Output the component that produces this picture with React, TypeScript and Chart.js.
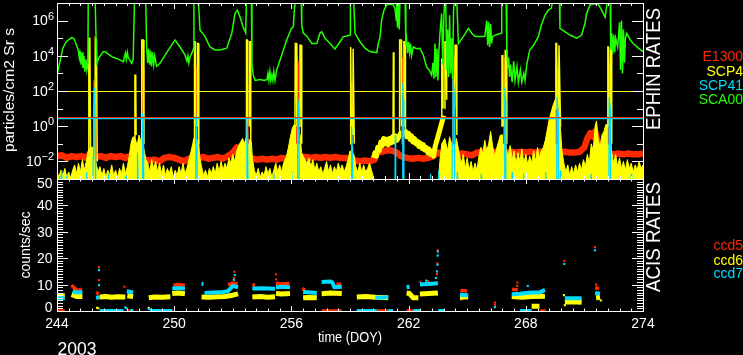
import React, { useEffect, useRef } from "react";
import { Chart, registerables } from "chart.js";

Chart.register(...registerables);

type P = [number, number] | null;

// ---------- axis / label data ----------
const DOY_MIN = 244;
const DOY_MAX = 274;
const DOY_LABELS = [244, 250, 256, 262, 268, 274];
const EPHIN_MIN = 1e-3;
const EPHIN_MAX = 1e7;
const EPHIN_EXPONENT_LABELS = [-2, 0, 2, 4, 6];
const ACIS_MIN = 0;
const ACIS_MAX = 50;
const ACIS_LABELS = [0, 10, 20, 30, 40, 50];
const YEAR_LABEL = "2003";
const X_TITLE = "time (DOY)";
const EPHIN_Y_TITLE = "particles/cm2 Sr s";
const ACIS_Y_TITLE = "counts/sec";
const EPHIN_PANEL_TITLE = "EPHIN RATES";
const ACIS_PANEL_TITLE = "ACIS RATES";
const EPHIN_NAMES = ["E1300", "SCP4", "SCP41", "SCA00"];
const ACIS_NAMES = ["ccd5", "ccd6", "ccd7"];

// ---------- EPHIN rates: [DOY, log10(rate)] ----------
const SCA00: P[] = [
  [244.0, 2.9], [244.13, 3.57], [244.3, 4.43], [244.47, 4.8], [244.75, 5.03], [244.87, 4.98], [245.0, 4.6], [245.09, 4.33],
  [245.14, 3.9], [245.18, 4.3], [245.23, 3.5], [245.28, 4.2], [245.33, 3.3], [245.38, 4.0], [245.43, 3.1], [245.48, 3.8],
  [245.53, 3.2], [245.58, 3.6], [245.6, 7.3], [245.95, 7.3], [246.03, 3.57], [246.15, 3.9], [246.36, 4.23], [246.46, 4.23],
  [246.8, 3.95], [247.05, 3.85], [247.4, 3.67], [247.5, 4.15], [247.55, 3.8], [247.6, 4.2], [247.65, 3.9], [247.82, 3.57],
  [247.9, 3.8], [247.97, 7.3], [248.54, 7.3], [248.59, 4.5], [248.64, 3.6], [248.69, 4.4], [248.74, 3.5], [248.79, 4.3],
  [248.84, 3.4], [248.89, 4.2], [248.95, 3.5], [249.0, 4.0], [249.1, 3.4], [249.27, 3.57], [249.6, 4.15], [250.04, 4.9],
  [250.3, 4.5], [250.55, 4.05], [250.65, 3.7], [250.7, 4.0], [250.75, 3.6], [250.8, 3.9], [250.9, 4.15], [250.99, 4.4],
  [251.01, 7.3], [251.23, 7.3], [251.32, 5.47], [251.58, 5.09], [251.83, 4.5], [252.09, 4.33], [252.34, 4.33], [252.69, 4.43],
  [252.95, 5.28], [253.11, 6.4], [253.23, 6.6], [253.37, 6.2], [253.54, 5.6], [253.66, 5.3], [253.7, 7.3], [253.95, 7.3],
  [253.98, 3.5], [254.05, 2.9], [254.14, 2.6], [254.4, 2.65], [254.6, 2.6], [254.75, 2.65], [254.8, 3.0], [254.85, 2.6],
  [254.9, 3.1], [254.95, 2.6], [255.0, 2.9], [255.05, 2.6], [255.1, 3.1], [255.16, 2.6], [255.25, 3.2], [255.42, 3.76],
  [255.59, 4.33], [255.76, 4.9], [255.93, 5.37], [256.0, 5.56], [256.1, 5.65], [256.16, 6.8], [256.18, 7.3], [256.5, 7.3],
  [256.53, 5.75], [256.6, 5.3], [256.8, 5.1], [257.04, 4.7], [257.3, 4.7], [257.46, 5.28], [257.55, 5.37], [257.72, 5.0],
  [257.98, 4.7], [258.23, 4.39], [258.49, 4.8], [258.66, 5.09], [258.83, 5.12], [259.0, 5.18], [259.02, 7.3], [259.18, 7.3],
  [259.26, 5.28], [259.51, 4.8], [259.77, 4.43], [260.02, 4.24], [260.37, 4.18], [260.45, 4.7], [260.54, 5.09], [260.62, 6.03],
  [260.74, 6.6], [260.88, 6.88], [261.05, 6.94], [261.22, 6.88], [261.3, 6.7], [261.37, 6.0], [261.39, 7.3], [261.43, 5.6],
  [261.47, 7.3], [261.52, 5.5], [261.56, 7.3], [261.82, 7.3], [261.86, 4.6], [261.9, 4.9], [261.95, 4.15], [262.0, 4.8],
  [262.05, 4.2], [262.1, 4.7], [262.15, 4.0], [262.24, 4.5], [262.41, 4.4], [262.58, 4.43], [262.75, 4.05], [262.92, 3.38],
  [263.1, 3.1], [263.18, 2.9], [263.25, 3.6], [263.3, 2.7], [263.35, 4.7], [263.4, 2.8], [263.45, 4.4], [263.5, 2.6],
  [263.55, 4.2], [263.6, 5.2], [263.69, 6.4], [263.75, 3.5], [263.8, 6.0], [263.85, 7.3], [263.9, 7.3], [263.95, 3.2],
  [264.0, 5.5], [264.05, 2.8], [264.1, 6.3], [264.15, 3.0], [264.2, 5.0], [264.25, 2.7], [264.3, 6.5], [264.35, 7.3],
  [264.46, 7.3], [264.55, 4.7], [264.8, 5.09], [265.06, 5.56], [265.23, 5.28], [265.4, 5.09], [265.9, 5.09], [266.0, 6.0],
  [266.05, 4.6], [266.1, 5.9], [266.15, 4.5], [266.2, 5.8], [266.25, 4.7], [266.3, 5.1], [266.5, 5.2], [266.75, 5.3],
  [266.77, 7.3], [266.99, 7.3], [267.03, 4.2], [267.08, 3.3], [267.12, 3.9], [267.17, 2.8], [267.22, 3.5], [267.3, 2.5],
  [267.38, 3.7], [267.45, 2.6], [267.55, 3.4], [267.62, 2.5], [267.72, 3.2], [267.8, 2.5], [267.9, 3.0], [267.96, 2.6],
  [268.05, 3.5], [268.2, 4.33], [268.4, 4.6], [268.64, 5.09], [268.8, 5.75], [268.98, 6.3], [269.15, 6.6], [269.3, 6.7],
  [269.41, 7.3], [269.72, 7.3], [269.75, 5.56], [269.9, 5.45], [270.26, 5.18], [270.6, 5.0], [270.86, 5.18], [271.03, 5.85],
  [271.11, 6.4], [271.29, 6.9], [271.46, 6.94], [271.71, 6.94], [271.88, 6.6], [272.06, 6.2], [272.2, 7.3], [272.32, 7.3],
  [272.35, 4.33], [272.4, 5.3], [272.45, 4.1], [272.5, 5.2], [272.55, 4.2], [272.6, 5.0], [272.7, 4.5], [272.8, 5.9],
  [272.85, 3.2], [272.9, 6.0], [272.95, 3.0], [273.0, 5.5], [273.05, 3.6], [273.1, 5.0], [273.17, 5.28], [273.35, 4.9],
  [273.5, 4.7], [273.75, 4.45], [274.0, 4.23],
];

const E1300_BASE: P[] = [
  [244.0, -1.7], [244.25, -1.65], [244.5, -1.8], [244.75, -1.7], [245.0, -1.75], [245.25, -1.7], [245.5, -1.8], [245.65, -1.6],
  [246.0, -1.75], [246.25, -1.7], [246.5, -1.8], [246.75, -1.7], [247.0, -1.75], [247.25, -1.7], [247.5, -1.8], [247.75, -1.7],
  [248.0, -1.6], [248.25, -1.7], [248.5, -1.9], [248.75, -1.95], [249.0, -1.9], [249.25, -2.0], [249.5, -1.8], [249.75, -1.75],
  [250.0, -1.8], [250.25, -1.9], [250.5, -2.0], [250.75, -1.85], [251.0, -1.8], [251.25, -1.8], [251.5, -1.75], [251.75, -1.85],
  [252.0, -1.8], [252.25, -1.75], [252.5, -1.85], [252.75, -1.7], [253.0, -1.5], [253.2, -1.2], [253.35, -1.4], [253.5, -1.5],
  [253.75, -1.6], [254.0, -1.85], [254.25, -1.9], [254.5, -1.85], [254.75, -1.9], [255.0, -1.85], [255.25, -1.9], [255.5, -1.8],
  [255.75, -1.85], [256.0, -1.8], [256.25, -1.8], [256.5, -1.75], [256.75, -1.75], [257.0, -1.8], [257.25, -1.75], [257.5, -1.8],
  [257.75, -1.75], [258.0, -1.8], [258.25, -1.75], [258.5, -1.8], [258.75, -1.8], [259.0, -1.85], [259.25, -1.95], [259.5, -2.0],
  [259.75, -1.95], [260.0, -2.0], [260.25, -1.9], [260.4, -1.5], [260.6, -1.45], [260.8, -1.4], [261.0, -1.35], [261.2, -1.4],
  [261.4, -1.5], [261.6, -1.7], [261.9, -1.8], [262.2, -1.85], [262.5, -1.8], [262.75, -1.85], [263.0, -1.8], [263.25, -1.7],
  [263.5, -1.5], [263.75, -1.6], [264.0, -1.6], [264.25, -1.6], [264.5, -1.6], [264.75, -1.55], [265.0, -1.6], [265.25, -1.65],
  [265.5, -1.5], [265.75, -1.45], [266.0, -1.45], [266.25, -1.5], [266.5, -1.45], [266.75, -1.5], [267.0, -1.5], [267.25, -1.45],
  [267.5, -1.5], [267.75, -1.45], [268.0, -1.5], [268.25, -1.45], [268.5, -1.5], [268.75, -1.45], [269.0, -1.5], [269.25, -1.5],
  [269.5, -1.45], [269.75, -1.5], [270.0, -1.45], [270.25, -1.5], [270.5, -1.5], [270.75, -1.45], [271.0, -1.2], [271.15, -0.7],
  [271.3, -0.4], [271.45, -0.6], [271.55, -0.3], [271.65, -0.8], [271.8, -1.2], [272.0, -1.5], [272.25, -1.55], [272.5, -1.6],
  [272.75, -1.55], [273.0, -1.6], [273.25, -1.55], [273.5, -1.6], [273.75, -1.6], [274.0, -1.55],
];

const E1300_SPIKES: P[] = [
  [245.88, -1.5], [245.9, 2.5], [245.98, 2.3], [246.0, -1.5], null,
  [248.34, -1.0], [248.36, 3.4], [248.42, 3.2], [248.44, -1.0], null,
  [251.05, -1.0], [251.07, 3.6], [251.12, 3.3], [251.14, -1.0], null,
  [253.7, -1.0], [253.72, 2.5], [253.76, 2.3], [253.78, -1.0], null,
  [256.28, -1.0], [256.3, 3.8], [256.36, 3.5], [256.4, -1.0], null,
  [259.04, -1.0], [259.06, 2.5], [259.1, 2.0], [259.12, -1.0], null,
  [261.64, -1.0], [261.66, 3.9], [261.71, 3.6], [261.73, -1.0], null,
  [264.26, -1.0], [264.28, 4.0], [264.34, 3.7], [264.37, -1.0], null,
  [266.87, -1.0], [266.89, 3.8], [266.95, 3.5], [266.97, -1.0], null,
  [269.55, -1.0], [269.57, 3.9], [269.62, 3.0], [269.65, -1.0], null,
  [272.22, -1.0], [272.24, 3.8], [272.3, 3.2], [272.33, -1.0],
];

const SCP4_BASE: P[] = [
  [244.0, -2.6], [244.1, -2.9], [244.2, -2.5], [244.3, -2.8], [244.4, -2.4], [244.5, -2.9], [244.6, -2.6], [244.7, -2.95],
  [244.8, -2.5], [244.9, -2.2], [245.0, -2.7], [245.1, -2.1], [245.2, -2.6], [245.3, -1.9], [245.4, -2.5], [245.5, -2.0],
  [245.6, -1.4], [245.7, -1.2], [245.95, -1.2], [246.0, -2.1], [246.1, -2.6], [246.2, -2.3], [246.3, -2.8], [246.4, -2.4],
  [246.5, -2.9], [246.6, -2.5], [246.7, -2.8], [246.8, -2.2], [246.9, -2.8], [247.0, -2.5], [247.1, -2.9], [247.2, -2.4],
  [247.3, -2.7], [247.4, -2.1], [247.5, -2.7], [247.6, -2.3], [247.7, -1.7], [247.8, -0.9], [247.9, -0.6], [248.0, -0.7],
  [248.1, -1.1], [248.2, -0.5], [248.3, -0.9], [248.45, -1.3], [248.55, -1.9], [248.65, -2.1], [248.75, -2.6], [248.85, -1.9],
  [248.95, -2.4], [249.05, -2.0], [249.15, -2.6], [249.25, -2.1], [249.35, -2.7], [249.45, -2.2], [249.55, -2.8], [249.65, -2.4],
  [249.75, -2.7], [249.85, -2.3], [249.95, -2.9], [250.05, -2.5], [250.15, -2.8], [250.25, -2.3], [250.35, -2.7], [250.45, -2.1],
  [250.55, -2.7], [250.65, -2.4], [250.75, -1.9], [250.85, -1.5], [250.95, -1.0], [251.0, -0.7], [251.25, -0.8], [251.3, -1.7],
  [251.4, -2.3], [251.5, -2.8], [251.6, -2.5], [251.7, -2.9], [251.8, -2.4], [251.9, -2.7], [252.0, -2.3], [252.1, -2.7],
  [252.2, -2.1], [252.3, -2.6], [252.4, -2.0], [252.5, -2.5], [252.6, -2.1], [252.7, -2.4], [252.8, -1.8], [252.9, -2.1],
  [253.0, -1.6], [253.1, -2.0], [253.2, -1.4], [253.3, -1.1], [253.4, -0.9], [253.5, -0.7], [253.6, -1.0], [253.7, -0.6],
  [253.95, -0.9], [254.0, -1.8], [254.1, -2.5], [254.2, -2.8], [254.3, -2.4], [254.4, -2.9], [254.5, -2.6], [254.6, -2.8],
  [254.7, -2.3], [254.8, -2.7], [254.9, -2.4], [255.0, -2.9], [255.1, -2.5], [255.2, -2.1], [255.3, -2.6], [255.4, -2.2],
  [255.5, -2.6], [255.6, -2.1], [255.75, -1.7], [255.85, -1.2], [255.95, -0.6], [256.05, -0.1], [256.15, 0.1], [256.25, 0.0],
  [256.45, -0.5], [256.52, -1.5], [256.6, -1.7], [256.7, -1.9], [256.8, -2.1], [256.9, -1.8], [257.0, -2.3], [257.1, -1.9],
  [257.2, -2.5], [257.3, -2.1], [257.4, -2.6], [257.5, -2.3], [257.6, -2.7], [257.7, -2.4], [257.8, -2.0], [257.9, -2.6],
  [258.0, -2.2], [258.1, -2.7], [258.2, -2.3], [258.3, -2.6], [258.4, -2.1], [258.5, -2.5], [258.6, -2.2], [258.7, -2.6],
  [258.8, -2.3], [258.9, -1.9], [259.0, -1.4], [259.2, -1.6], [259.3, -2.3], [259.4, -2.6], [259.5, -2.1], [259.6, -2.6],
  [259.7, -2.2], [259.8, -2.6], [259.9, -2.4], [260.0, -2.1], [260.1, -2.5], [260.2, -2.9], [260.3, -3.5], [263.5, -3.5],
  [263.6, -2.0], [263.7, -1.0], [263.85, -0.7], [264.0, -1.4], [264.1, -0.6], [264.25, -1.2], [264.45, -0.7], [264.5, -1.0],
  [264.6, -1.6], [264.7, -2.1], [264.8, -1.6], [264.9, -2.4], [265.0, -1.8], [265.1, -2.5], [265.2, -2.0], [265.3, -2.6],
  [265.4, -2.1], [265.5, -2.5], [265.6, -1.7], [265.7, -1.2], [265.8, -1.6], [265.9, -0.8], [266.0, -1.4], [266.1, -1.0],
  [266.2, -0.3], [266.3, -1.1], [266.4, -1.7], [266.5, -1.3], [266.6, -0.9], [266.7, -0.5], [266.95, -0.5], [267.0, -1.3],
  [267.1, -1.7], [267.2, -1.1], [267.3, -1.9], [267.4, -1.4], [267.5, -2.1], [267.6, -1.5], [267.7, -2.0], [267.8, -1.3],
  [267.9, -2.1], [268.0, -1.6], [268.1, -2.2], [268.2, -1.7], [268.3, -2.1], [268.4, -1.4], [268.5, -2.0], [268.6, -1.2],
  [268.7, -1.8], [268.8, -1.4], [268.9, -1.2], [269.0, -0.8], [269.1, -0.2], [269.2, 0.4], [269.3, 0.8], [269.4, 1.2],
  [269.5, 1.5], [269.72, 1.0], [269.78, -0.2], [269.85, -1.4], [269.95, -2.1], [270.05, -2.6], [270.15, -2.2], [270.25, -2.8],
  [270.35, -2.3], [270.45, -2.7], [270.55, -2.2], [270.65, -2.6], [270.75, -2.1], [270.85, -2.5], [270.95, -1.9], [271.05, -2.3],
  [271.15, -1.6], [271.25, -2.1], [271.35, -1.0], [271.45, -1.4], [271.55, 0.0], [271.62, 0.3], [271.7, -0.7], [271.8, -1.2],
  [271.9, -0.5], [272.0, -0.3], [272.1, 0.1], [272.3, 0.0], [272.4, -1.5], [272.5, -2.1], [272.6, -1.6], [272.7, -2.3],
  [272.8, -1.8], [272.9, -2.4], [273.0, -2.0], [273.1, -2.5], [273.2, -1.9], [273.3, -2.4], [273.4, -2.1], [273.5, -2.6],
  [273.6, -2.2], [273.7, -2.5], [273.8, -2.0], [273.9, -2.4], [274.0, -2.2],
];

const SCP4_BAND: P[] = [
  [260.2, -1.8], [260.28, -1.5], [260.35, -1.7], [260.42, -1.2], [260.5, -1.4], [260.58, -0.9], [260.65, -1.1], [260.72, -0.7],
  [260.8, -1.0], [260.88, -0.75], [260.95, -1.05], [261.02, -0.7], [261.1, -0.95], [261.18, -0.6], [261.25, -0.9], [261.32, -0.55],
  [261.4, -0.8], [261.6, -0.4], [261.85, -0.3], [261.92, -0.6], [262.0, -0.4], [262.08, -0.75], [262.15, -0.55], [262.22, -0.9],
  [262.3, -0.7], [262.38, -1.0], [262.45, -0.85], [262.52, -1.15], [262.6, -0.95], [262.68, -1.25], [262.75, -1.05], [262.82, -1.35],
  [262.9, -1.2], [262.98, -1.5], [263.05, -1.3], [263.12, -1.6], [263.2, -1.45], [263.28, -1.7], [263.35, -1.2], [263.5, -0.6],
  [263.65, 0.0], [263.8, 0.6],
];

const SCP4_SPIKES: P[] = [
  [245.6, -2.0], [245.63, 5.0], [245.68, 5.0], [245.72, -1.5], null,
  [245.94, -1.5], [245.96, 5.0], [246.02, 4.9], [246.06, -2.0], null,
  [247.97, -1.0], [247.99, 2.9], [248.03, 2.9], [248.05, -0.5], null,
  [248.32, -1.0], [248.34, 4.9], [248.42, 4.9], [248.45, -1.0], null,
  [251.02, -1.0], [251.04, 4.8], [251.07, 4.8], [251.09, 0.0], null,
  [251.18, 0.0], [251.2, 4.7], [251.24, 4.7], [251.26, -1.0], null,
  [253.68, -1.0], [253.7, 4.9], [253.74, 4.9], [253.76, 0.0], null,
  [253.84, 0.0], [253.86, 4.8], [253.9, 4.8], [253.92, -1.0], null,
  [256.18, 0.0], [256.2, 4.7], [256.25, 4.7], [256.28, 0.0], null,
  [256.42, 0.0], [256.44, 4.6], [256.5, 4.6], [256.53, -1.0], null,
  [259.0, -1.0], [259.02, 4.5], [259.05, 4.5], [259.07, -0.5], null,
  [259.14, -0.5], [259.16, 4.4], [259.2, 4.4], [259.22, -1.0], null,
  [261.2, -0.8], [261.22, 4.2], [261.25, -0.8], null,
  [261.52, -0.5], [261.54, 4.9], [261.62, 4.9], [261.64, 0.0], null,
  [261.74, 0.0], [261.76, 4.8], [261.82, 4.8], [261.84, -0.5], null,
  [263.68, 0.0], [263.7, 3.8], [263.74, 3.8], [263.76, 1.0], null,
  [263.84, 1.0], [263.86, 4.8], [263.92, 4.8], [263.95, 1.5], null,
  [264.35, 1.0], [264.38, 4.6], [264.44, 4.6], [264.47, -0.5], null,
  [266.76, 0.0], [266.78, 4.0], [266.82, 4.0], [266.84, 0.0], null,
  [266.93, 0.0], [266.95, 4.3], [267.0, 4.3], [267.03, -1.0], null,
  [269.52, 1.0], [269.54, 4.7], [269.58, 4.7], [269.6, 1.0], null,
  [269.68, 1.0], [269.7, 4.6], [269.75, 4.6], [269.78, 0.0], null,
  [272.18, 0.0], [272.2, 4.5], [272.24, 4.5], [272.26, 0.0], null,
  [272.32, 0.0], [272.34, 4.4], [272.38, 4.4], [272.4, -1.0],
];

const SCP41: P[] = [
  [244.13, -3.5], [244.15, -2.8], [244.17, -3.5], null,
  [244.22, -3.5], [244.24, -2.5], [244.26, -3.5], null,
  [244.48, -3.5], [244.5, -2.8], [244.52, -3.5], null,
  [245.5, -3.5], [245.52, -2.6], [245.54, -3.5], null,
  [245.84, -3.5], [245.85, -1.8], [245.87, 1.0], [245.9, 2.2], [245.93, 1.5], [245.96, -1.8], [245.98, -3.5], null,
  [246.62, -3.5], [246.64, -2.7], [246.68, -3.5], null,
  [247.52, -3.5], [247.54, -2.8], [247.58, -3.5], null,
  [248.1, -3.5], [248.12, -1.5], [248.16, -3.5], null,
  [248.36, -3.5], [248.38, 0.75], [248.42, 0.2], [248.44, -3.5], null,
  [251.1, -3.5], [251.12, 0.6], [251.16, 0.0], [251.18, -3.5], null,
  [253.7, -3.5], [253.72, 0.5], [253.76, -0.5], [253.78, -3.5], null,
  [255.08, -3.5], [255.1, -2.7], [255.14, -3.5], null,
  [256.0, -3.5], [256.02, -2.6], [256.04, -3.5], null,
  [256.3, -3.5], [256.32, 1.66], [256.38, 1.0], [256.4, -3.5], null,
  [259.06, -3.5], [259.08, 0.0], [259.12, -1.2], [259.14, -3.5], null,
  [261.3, -3.5], [261.32, -0.5], [261.34, -3.5], null,
  [261.68, -3.5], [261.7, 2.45], [261.74, 1.5], [261.76, -3.5], null,
  [263.1, -3.5], [263.12, -2.7], [263.14, -3.5], null,
  [263.52, -3.5], [263.54, -2.5], [263.58, -3.5], null,
  [264.22, -3.5], [264.24, -1.0], [264.27, 2.8], [264.33, 2.0], [264.36, -3.5], null,
  [264.45, -3.5], [264.5, -2.6], [264.55, -3.5], null,
  [265.7, -3.5], [265.72, -2.7], [265.76, -3.5], null,
  [266.9, -3.5], [266.92, 2.2], [266.96, 1.5], [266.98, -3.5], null,
  [267.28, -3.5], [267.3, -2.6], [267.32, -3.5], null,
  [267.86, -3.5], [267.88, -2.7], [267.9, -3.5], null,
  [269.0, -3.5], [269.02, -2.6], [269.04, -3.5], null,
  [269.58, -3.5], [269.6, 1.66], [269.65, 0.8], [269.67, -3.5], null,
  [269.75, -3.5], [269.77, -2.5], [269.8, -3.5], null,
  [271.32, -3.5], [271.34, -2.7], [271.4, -3.5], null,
  [272.25, -3.5], [272.27, 1.66], [272.32, 1.0], [272.34, -3.5], null,
  [273.38, -3.5], [273.4, -2.7], [273.42, -3.5],
];

// limit lines, log10 of rate: SCP4, E1300, SCP41
const LIMIT_LOG = [1.97, 0.49, 0.44];

// ---------- ACIS rates: [DOY, counts/sec] ----------
const CCD5_BANDS: P[] = [
  [244.0, 0], [244.4, 0], null,
  [244.75, 9.8], [244.85, 9.0], [245.0, 8.0], [245.15, 7.8], [245.25, 8.5], null,
  [246.0, 7.0], [246.15, 6.5], null,
  [247.6, 0], [247.75, 0], null,
  [249.9, 0], [249.95, 0], null,
  [249.95, 9.8], [250.2, 10.0], [250.55, 9.8], null,
  [252.75, 10.0], [253.0, 10.5], [253.25, 10.3], null,
  [254.0, 10.0], [254.15, 9.8], null,
  [255.2, 10.5], [255.5, 10.2], [255.9, 10.4], null,
  [256.55, 8.5], [256.7, 8.0], null,
  [257.55, 0], [258.58, 0], null,
  [258.3, 10.0], [258.55, 10.2], null,
  [260.37, 0], [260.96, 0], null,
  [261.9, 0], [262.24, 0], null,
  [264.65, 7.8], [265.0, 7.6], null,
  [267.3, 8.2], [267.6, 8.0], null,
  [268.73, 0], [269.02, 0], null,
  [271.55, 8.8], [271.75, 8.5],
];
const CCD5_DOTS: P[] = [
  [246.15, 16.6], [246.15, 11.7], [247.45, 9.2], [252.9, 9.8], [253.08, 14.9], [253.06, 12.5], [255.2, 13.9], [255.22, 12.0],
  [262.6, 11.0], [263.0, 11.3], [263.45, 14.0], [263.47, 18.0], [263.49, 23.0], [266.42, 3.2], [266.42, 2.4], [267.57, 10.8],
  [267.55, 9.5], [269.97, 19.0], [271.54, 24.2], [271.6, 10.0],
];
const CCD6_BANDS: P[] = [
  [244.0, 5.8], [244.4, 5.8], null,
  [244.75, 6.3], [245.0, 5.5], [245.3, 5.5], null,
  [246.2, 5.3], [246.5, 5.5], [246.8, 5.2], [247.1, 5.4], [247.5, 5.3], null,
  [247.6, 5.8], [247.9, 5.5], null,
  [248.7, 5.0], [249.0, 5.3], [249.4, 5.2], [249.8, 5.4], null,
  [249.9, 6.6], [250.2, 6.8], [250.55, 6.5], null,
  [251.4, 5.3], [251.8, 5.2], [252.2, 5.4], [252.6, 5.5], [253.0, 6.0], [253.27, 6.5], null,
  [254.0, 5.3], [254.4, 5.5], [254.8, 5.2], [255.16, 5.4], null,
  [255.21, 6.6], [255.5, 6.4], [255.93, 6.6], null,
  [256.6, 5.0], [256.9, 5.1], [257.3, 5.0], null,
  [257.55, 6.5], [258.0, 6.8], [258.58, 6.6], null,
  [259.35, 5.3], [259.8, 5.5], [260.3, 5.2], [260.96, 5.0], null,
  [261.9, 6.8], [262.05, 6.6], [262.24, 5.0], [262.5, 5.0], null,
  [262.58, 6.4], [263.0, 6.6], [263.5, 6.8], null,
  [264.63, 5.3], [265.05, 5.3], null,
  [267.28, 5.5], [267.8, 5.2], [268.3, 5.5], [268.98, 5.6], null,
  [268.3, 1.8], [268.7, 1.8], null,
  [270.0, 3.4], [270.4, 3.5], [270.86, 3.3], null,
  [271.6, 5.0], [271.8, 5.2],
];
const CCD6_DOTS: P[] = [
  [246.05, 1.2], [246.12, 1.0], [248.7, 1.2], [248.72, 0.8], [264.7, 4.5], [269.95, 6.0], [270.0, 2.2], [271.84, 4.0],
];
const CCD7_BANDS: P[] = [
  [244.0, 4.8], [244.4, 4.8], null,
  [244.8, 7.5], [245.0, 7.0], [245.3, 7.2], null,
  [246.0, 5.0], [246.2, 5.2], null,
  [246.2, 0], [247.4, 0], null,
  [247.57, 7.5], [247.9, 7.0], null,
  [247.75, 0], [247.9, 0], null,
  [248.76, 0], [249.9, 0], null,
  [249.9, 8.5], [250.2, 8.7], [250.55, 8.5], null,
  [251.4, 10.3], [251.5, 10.2], null,
  [251.55, 6.8], [252.0, 7.0], [252.5, 7.2], [252.75, 7.5], [253.0, 9.5], [253.27, 9.0], null,
  [254.0, 8.5], [254.5, 8.6], [255.16, 8.4], null,
  [255.21, 9.0], [255.6, 9.2], [255.93, 9.0], null,
  [256.6, 7.2], [257.0, 7.0], [257.3, 6.8], null,
  [257.55, 11.0], [258.0, 11.2], [258.1, 10.8], [258.2, 9.0], [258.58, 9.2], null,
  [259.34, 0], [260.37, 0], null,
  [260.3, 5.0], [260.96, 5.2], null,
  [260.96, 0], [261.2, 0], null,
  [261.9, 9.0], [262.05, 9.2], null,
  [262.24, 0], [262.58, 0], null,
  [262.58, 10.0], [263.0, 10.2], [263.5, 10.5], null,
  [263.52, 0], [263.86, 0], null,
  [264.63, 6.2], [265.05, 6.0], null,
  [267.28, 6.3], [267.7, 6.5], [268.3, 7.0], [268.7, 7.0], [268.98, 8.0], null,
  [267.7, 0], [268.3, 0], null,
  [270.0, 4.8], [270.86, 4.8], null,
  [271.55, 6.8], [271.8, 6.5],
];
const CCD7_DOTS: P[] = [
  [246.15, 15.5], [246.15, 9.8], [247.5, 1.4], [247.55, 1.0], [248.7, 0.8], [253.1, 13.6], [253.05, 11.8], [262.9, 11.5],
  [263.4, 12.5], [263.45, 15.0], [263.48, 17.5], [263.49, 21.0], [263.5, 22.5], [266.42, 1.5], [268.1, 9.5], [269.97, 17.8],
  [271.54, 23.0],
];

// ---------- styles ----------
const W = 743;
const H = 355;
const FONT = '"Liberation Sans", Arial, sans-serif';
const RED = "#ff2a00";
const YELLOW = "#ffff00";
const CYAN = "#00dcff";
const GREEN = "#22ff00";
const WHITE = "#ffffff";
const EPHIN_COLORS = [RED, YELLOW, CYAN, GREEN];
const ACIS_COLORS = [RED, YELLOW, CYAN];

function toXY(arr: P[], log: boolean) {
  const out: { x: number; y: number | null }[] = [];
  let lastX = DOY_MIN;
  for (const p of arr) {
    if (p === null) {
      out.push({ x: lastX, y: null });
      continue;
    }
    lastX = p[0];
    out.push({ x: p[0], y: log ? Math.pow(10, p[1]) : p[1] });
  }
  return out;
}

function lineDs(data: any[], color: string, width: number, extra: any = {}) {
  return {
    data,
    borderColor: color,
    backgroundColor: color,
    borderWidth: width,
    pointRadius: 0,
    pointHoverRadius: 0,
    tension: 0,
    clip: 0,
    spanGaps: false,
    fill: false,
    ...extra,
  };
}

function dotDs(data: any[], color: string) {
  return {
    data,
    showLine: false,
    pointRadius: 1.5,
    pointStyle: "rect",
    pointBackgroundColor: color,
    pointBorderWidth: 0,
    borderColor: color,
    clip: 0,
  };
}

function drawText(
  ctx: CanvasRenderingContext2D,
  s: string,
  x: number,
  y: number,
  size: number,
  color: string,
  align: CanvasTextAlign = "center",
  rotate = 0,
  width = 0
) {
  ctx.save();
  ctx.font = `${size}px ${FONT}`;
  ctx.fillStyle = color;
  ctx.textAlign = align;
  ctx.textBaseline = "alphabetic";
  ctx.translate(x, y);
  if (rotate) ctx.rotate(rotate);
  if (width) {
    const w = ctx.measureText(s).width;
    ctx.scale(width / w, 1);
  }
  ctx.fillText(s, 0, 0);
  ctx.restore();
}

function drawXTicks(ctx: CanvasRenderingContext2D, chart: any, major: number, minor: number) {
  const a = chart.chartArea;
  const xs = chart.scales.x;
  for (let i = 0; i <= 50; i++) {
    const px = Math.round(xs.getPixelForValue(DOY_MIN + i * 0.6)) + 0.5;
    const len = i % 10 === 0 ? major : minor;
    ctx.moveTo(px, a.top);
    ctx.lineTo(px, a.top + len);
    ctx.moveTo(px, a.bottom);
    ctx.lineTo(px, a.bottom - len);
  }
}

const topDecor = {
  id: "topDecor",
  afterDraw(chart: any) {
    const { ctx, chartArea: a } = chart;
    const ys = chart.scales.y;
    ctx.save();
    ctx.strokeStyle = WHITE;
    ctx.lineWidth = 1;
    ctx.strokeRect(a.left + 0.5, a.top + 0.5, a.right - a.left, a.bottom - a.top);
    ctx.beginPath();
    drawXTicks(ctx, chart, 6, 3);
    for (let e = -3; e <= 7; e++) {
      const py = Math.round(ys.getPixelForValue(Math.pow(10, e))) + 0.5;
      const len = e % 2 === 0 ? 11 : 6;
      ctx.moveTo(a.left, py);
      ctx.lineTo(a.left + len, py);
      ctx.moveTo(a.right, py);
      ctx.lineTo(a.right - len, py);
    }
    ctx.stroke();
    for (const e of EPHIN_EXPONENT_LABELS) {
      const py = ys.getPixelForValue(Math.pow(10, e));
      const sup = e < 0 ? "\u2212" + String(-e) : String(e);
      ctx.font = `11px ${FONT}`;
      const wSup = ctx.measureText(sup).width;
      drawText(ctx, sup, 54, py - 1, 11, WHITE, "right");
      drawText(ctx, "10", 54 - wSup, py + 4.7, 14, WHITE, "right");
    }
    ctx.restore();
  },
};

const bottomDecor = {
  id: "bottomDecor",
  afterDraw(chart: any) {
    const { ctx, chartArea: a } = chart;
    const ys = chart.scales.y;
    const xs = chart.scales.x;
    ctx.save();
    ctx.strokeStyle = WHITE;
    ctx.lineWidth = 1;
    ctx.strokeRect(a.left + 0.5, a.top + 0.5, a.right - a.left, a.bottom - a.top);
    ctx.beginPath();
    drawXTicks(ctx, chart, 5, 2.5);
    for (let v = ACIS_MIN; v <= ACIS_MAX; v++) {
      const py = Math.round(ys.getPixelForValue(v)) + 0.5;
      const len = v % 10 === 0 ? 11 : 6;
      ctx.moveTo(a.left, py);
      ctx.lineTo(a.left + len, py);
      ctx.moveTo(a.right, py);
      ctx.lineTo(a.right - len, py);
    }
    ctx.stroke();
    for (const v of ACIS_LABELS) {
      const py = Math.min(Math.max(ys.getPixelForValue(v), a.top + 3.5), a.bottom - 4);
      drawText(ctx, String(v), 52.5, py + 5, 14, WHITE, "right");
    }
    for (const d of DOY_LABELS) {
      drawText(ctx, String(d), xs.getPixelForValue(d), 328.3, 14, WHITE, "center");
    }
    drawText(ctx, X_TITLE, 350, 341.5, 14, WHITE, "center", 0, 64);
    drawText(ctx, YEAR_LABEL, 77, 355, 18, WHITE, "center", 0, 39);
    drawText(ctx, EPHIN_Y_TITLE, 13.5, 90, 14, WHITE, "center", -Math.PI / 2, 124);
    drawText(ctx, ACIS_Y_TITLE, 30, 245, 14, WHITE, "center", -Math.PI / 2, 67);
    drawText(ctx, EPHIN_PANEL_TITLE, 660, 69, 21, WHITE, "center", -Math.PI / 2, 122);
    drawText(ctx, ACIS_PANEL_TITLE, 660, 237, 21, WHITE, "center", -Math.PI / 2, 110);
    const ephinY = [61, 75.5, 89.5, 103.5];
    EPHIN_NAMES.forEach((n, i) => drawText(ctx, n, 743, ephinY[i], 14, EPHIN_COLORS[i], "right"));
    const acisY = [250, 264.5, 278];
    ACIS_NAMES.forEach((n, i) => drawText(ctx, n, 743, acisY[i], 14, ACIS_COLORS[i], "right"));
    ctx.restore();
  },
};

function baseOptions(padding: any, yScale: any) {
  return {
    animation: false,
    responsive: false,
    maintainAspectRatio: false,
    devicePixelRatio: 1,
    events: [],
    layout: { padding },
    scales: {
      x: { type: "linear", min: DOY_MIN, max: DOY_MAX, display: false },
      y: yScale,
    },
    plugins: { legend: { display: false }, tooltip: { enabled: false }, title: { display: false } },
    elements: { point: { radius: 0 }, line: { tension: 0 } },
  };
}

export default function App() {
  const topRef = useRef<HTMLCanvasElement>(null);
  const botRef = useRef<HTMLCanvasElement>(null);

  useEffect(() => {
    const limitData = (v: number) => toXY([[DOY_MIN, v], [DOY_MAX, v]], true);
    const top = new Chart(topRef.current as HTMLCanvasElement, {
      type: "line",
      data: {
        datasets: [
          lineDs(toXY(SCA00, true), GREEN, 1.5),
          lineDs(limitData(LIMIT_LOG[0]), YELLOW, 1),
          lineDs(limitData(LIMIT_LOG[1]), RED, 1),
          lineDs(limitData(LIMIT_LOG[2]), CYAN, 1.5),
          lineDs(toXY(SCP41, true), CYAN, 1.2),
          lineDs(toXY(SCP4_SPIKES, true), YELLOW, 1.5),
          lineDs(toXY(E1300_SPIKES, true), RED, 1.5),
          lineDs(toXY(SCP4_BAND, true), YELLOW, 5, { borderJoinStyle: "round" }),
          lineDs(toXY(SCP4_BASE, true), YELLOW, 1, { fill: "start", backgroundColor: YELLOW }),
          lineDs(toXY(E1300_BASE, true), RED, 6.5, { borderJoinStyle: "round" }),
        ] as any,
      },
      options: baseOptions(
        { left: 57, top: 3, right: W - 643, bottom: H - 179 },
        { type: "logarithmic", min: EPHIN_MIN, max: EPHIN_MAX, display: false }
      ) as any,
      plugins: [topDecor],
    });
    const bot = new Chart(botRef.current as HTMLCanvasElement, {
      type: "line",
      data: {
        datasets: [
          dotDs(toXY(CCD7_DOTS, false), CYAN),
          lineDs(toXY(CCD7_BANDS, false), CYAN, 4, { borderJoinStyle: "round" }),
          dotDs(toXY(CCD5_DOTS, false), RED),
          lineDs(toXY(CCD5_BANDS, false), RED, 3.5, { borderJoinStyle: "round" }),
          dotDs(toXY(CCD6_DOTS, false), YELLOW),
          lineDs(toXY(CCD6_BANDS, false), YELLOW, 5, { borderJoinStyle: "round" }),
        ] as any,
      },
      options: baseOptions(
        { left: 57, top: 179, right: W - 643, bottom: H - 311 },
        { type: "linear", min: ACIS_MIN, max: ACIS_MAX, display: false }
      ) as any,
      plugins: [bottomDecor],
    });
    return () => {
      top.destroy();
      bot.destroy();
    };
  }, []);

  return (
    <div
      style={{
        position: "fixed",
        left: 0,
        top: 0,
        width: W,
        height: H,
        background: "#000",
        overflow: "hidden",
      }}
    >
      <canvas ref={topRef} width={W} height={H} style={{ position: "absolute", left: 0, top: 0 }} />
      <canvas ref={botRef} width={W} height={H} style={{ position: "absolute", left: 0, top: 0 }} />
    </div>
  );
}
